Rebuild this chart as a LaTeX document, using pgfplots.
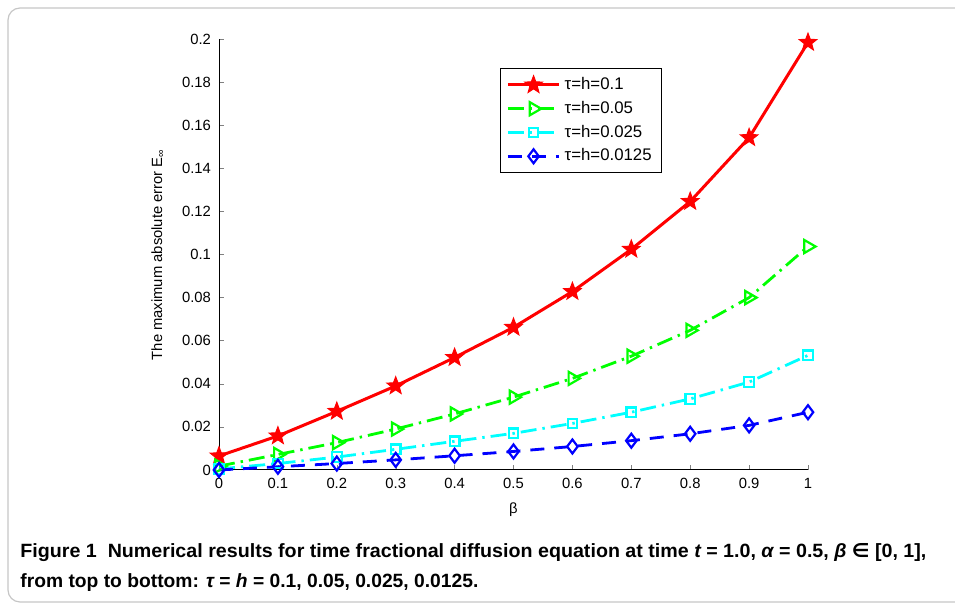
\documentclass[border=0pt]{standalone}
\usepackage{pgfplots}
\pgfplotsset{compat=1.18}
\usepackage{fontspec}
\setmainfont{Liberation Sans}
\newfontfamily\djv{DejaVu Sans}
\usepackage{graphicx}
\definecolor{mgreen}{RGB}{0,255,0}
\definecolor{mcyan}{RGB}{0,255,255}
\definecolor{mblue}{RGB}{0,0,255}
\definecolor{mred}{RGB}{255,0,0}
\pgfdeclareplotmark{fstar}{%
  \pgfpathmoveto{\pgfpointpolar{90}{\pgfplotmarksize}}%
  \pgfpathlineto{\pgfpointpolar{126}{0.42\pgfplotmarksize}}%
  \pgfpathlineto{\pgfpointpolar{162}{\pgfplotmarksize}}%
  \pgfpathlineto{\pgfpointpolar{198}{0.42\pgfplotmarksize}}%
  \pgfpathlineto{\pgfpointpolar{234}{\pgfplotmarksize}}%
  \pgfpathlineto{\pgfpointpolar{270}{0.42\pgfplotmarksize}}%
  \pgfpathlineto{\pgfpointpolar{306}{\pgfplotmarksize}}%
  \pgfpathlineto{\pgfpointpolar{342}{0.42\pgfplotmarksize}}%
  \pgfpathlineto{\pgfpointpolar{18}{\pgfplotmarksize}}%
  \pgfpathlineto{\pgfpointpolar{54}{0.42\pgfplotmarksize}}%
  \pgfpathclose
  \pgfusepathqfillstroke}
\begin{document}
\begin{tikzpicture}
\useasboundingbox (0,0) rectangle (477.5pt,302pt);
\clip (0,0) rectangle (477.5pt,302pt);
\draw[gray!45, line width=0.6pt, rounded corners=6pt] (4pt,1pt) rectangle (490pt,298pt);
\begin{axis}[
  at={(109.5pt,67pt)}, anchor=south west,
  scale only axis, width=294.5pt, height=215.5pt,
  xmin=0, xmax=1, ymin=0, ymax=0.2,
  axis x line*=bottom, axis y line*=left,
  axis line style={-, line width=0.5pt},
  tick align=inside, major tick length=2.5pt,
  xtick={0,0.1,...,1.01}, ytick={0,0.02,...,0.201},
  scaled y ticks=false, scaled x ticks=false,
  /pgf/number format/assume math mode=true,
  /pgf/number format/fixed, /pgf/number format/precision=2,
  tick label style={font=\fontsize{7.4}{8}\selectfont},
  xticklabel style={yshift=-0.5pt},
  yticklabel style={xshift=-0.5pt},
  xlabel={β}, ylabel={The maximum absolute error E\textsubscript{∞}},
  label style={font=\fontsize{7.4}{8}\selectfont},
  xlabel style={at={(axis description cs:0.5,-0.06)}, anchor=north},
  ylabel style={at={(axis description cs:-0.104,0.5)}, anchor=center},
  clip=false,
  legend style={at={(0.477,0.933)}, anchor=north west, draw=black, line width=0.5pt,
    font=\fontsize{8.4}{9}\selectfont, cells={anchor=west}, row sep=0.3pt,
    inner xsep=3pt, inner ysep=2.5pt},
  legend image code/.code={\draw[mark repeat=2,mark phase=2] plot coordinates {(0cm,0cm) (0.45cm,0cm) (0.9cm,0cm)};},
]
\addplot[mred, line width=1.5pt, mark=fstar, mark size=4.6pt, mark options={solid, fill=mred, line width=0.5pt}] coordinates {
(0,0.0065) (0.1,0.0158) (0.2,0.0272) (0.3,0.0390) (0.4,0.0522) (0.5,0.0662) (0.6,0.0828) (0.7,0.1024) (0.8,0.1246) (0.9,0.1542) (1.0,0.1984)};
\addlegendentry{τ=h=0.1}
\addplot[mgreen, line width=1.4pt, dash pattern=on 8pt off 3pt on 1.2pt off 3pt, mark=triangle, mark size=3.8pt, mark options={solid, rotate=-90, line width=1.1pt}] coordinates {
(0,0.0018) (0.1,0.0072) (0.2,0.0127) (0.3,0.0190) (0.4,0.0260) (0.5,0.0338) (0.6,0.0425) (0.7,0.0528) (0.8,0.0648) (0.9,0.0800) (1.0,0.1037)};
\addlegendentry{τ=h=0.05}
\addplot[mcyan, line width=1.4pt, dash pattern=on 8pt off 3pt on 1.2pt off 3pt, mark=square, mark size=2.4pt, mark options={solid, line width=1.1pt}] coordinates {
(0,0.0005) (0.1,0.0030) (0.2,0.0060) (0.3,0.0096) (0.4,0.0133) (0.5,0.0170) (0.6,0.0216) (0.7,0.0268) (0.8,0.0330) (0.9,0.0408) (1.0,0.0532)};
\addlegendentry{τ=h=0.025}
\addplot[mblue, line width=1.4pt, dash pattern=on 7pt off 5pt, mark=diamond, mark size=3.5pt, mark options={solid, line width=1.1pt}] coordinates {
(0,0.0000) (0.1,0.0015) (0.2,0.0030) (0.3,0.0047) (0.4,0.0066) (0.5,0.0086) (0.6,0.0109) (0.7,0.0136) (0.8,0.0168) (0.9,0.0207) (1.0,0.0268)};
\addlegendentry{τ=h=0.0125}
\end{axis}
\node[anchor=base west, inner sep=0pt] at (10pt,23pt) {\resizebox{453pt}{\height}{\fontsize{9.6}{10}\selectfont\bfseries Figure 1\ \ Numerical results for time fractional diffusion equation at time {\itshape t} = 1.0, {\itshape α} = 0.5, {\itshape β} {\djv ∈} [0, 1],}};
\node[anchor=base west, inner sep=0pt] at (10pt,8pt) {\resizebox{229pt}{\height}{\fontsize{9.6}{10}\selectfont\bfseries from top to bottom: {\itshape τ} = {\itshape h} = 0.1, 0.05, 0.025, 0.0125.}};
\end{tikzpicture}
\end{document}
